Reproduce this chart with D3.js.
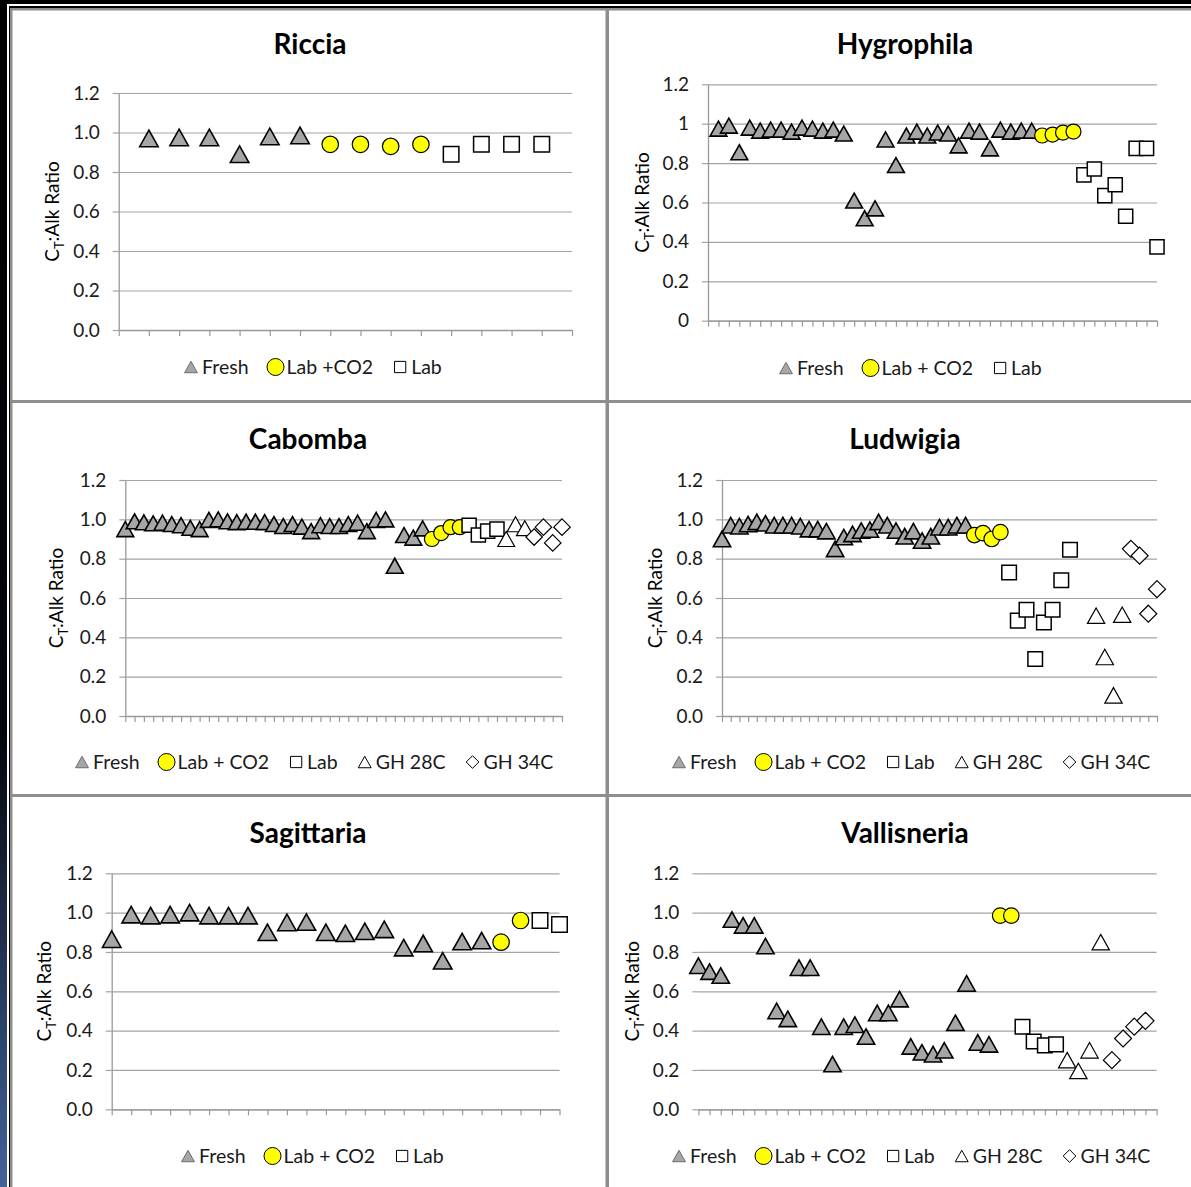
<!DOCTYPE html>
<html>
<head>
<meta charset="utf-8">
<script src="https://cdn.jsdelivr.net/npm/d3@7"></script>
<style>
  body { margin: 0; background: #000; }
  svg { display: block; font-family: Lato, "Open Sans", sans-serif; }
</style>
</head>
<body>
<div id="chart"></div>
<script>
// ---- data ----
const yTicks = [0, 0.2, 0.4, 0.6, 0.8, 1.0, 1.2];

const legendShort = ["Fresh", "Lab +CO2", "Lab"];
const legendThree = ["Fresh", "Lab + CO2", "Lab"];
const legendFive = ["Fresh", "Lab + CO2", "Lab", "GH 28C", "GH 34C"];

const ricciaFresh = [0.97, 0.975, 0.975, 0.89, 0.98, 0.985];
const ricciaLabCO2 = [0.94, 0.94, 0.93, 0.94];
const ricciaLab = [0.89, 0.94, 0.94, 0.94];

const hygroFresh = [0.975, 0.99, 0.855, 0.98, 0.965, 0.97, 0.97, 0.96, 0.98, 0.975,
  0.965, 0.97, 0.95, 0.61, 0.52, 0.57, 0.92, 0.79, 0.94, 0.96,
  0.94, 0.955, 0.95, 0.89, 0.965, 0.96, 0.875, 0.97, 0.96, 0.965, 0.965];
const hygroLabCO2 = [0.94, 0.945, 0.955, 0.96];
const hygroLab = [0.74, 0.77, 0.635, 0.69, 0.53, 0.875, 0.875, 0.375];

const cabombaFresh = [0.95, 0.99, 0.985, 0.98, 0.983, 0.976, 0.97, 0.957, 0.95, 0.997,
  1.0, 0.99, 0.986, 0.988, 0.988, 0.986, 0.976, 0.966, 0.976, 0.963,
  0.94, 0.97, 0.966, 0.966, 0.976, 0.983, 0.94, 0.997, 1.0, 0.764,
  0.92, 0.907, 0.954];
const cabombaLabCO2 = [0.90, 0.93, 0.96, 0.96];
const cabombaLab = [0.97, 0.92, 0.94, 0.95];
const cabombaGH28 = [0.90, 0.975, 0.955];
const cabombaGH34 = [0.91, 0.96, 0.88, 0.96];

const ludwigiaFresh = [0.90, 0.97, 0.965, 0.976, 0.987, 0.98, 0.97, 0.97, 0.97, 0.965,
  0.95, 0.95, 0.94, 0.85, 0.91, 0.926, 0.943, 0.948, 0.987, 0.97,
  0.943, 0.914, 0.94, 0.892, 0.914, 0.96, 0.96, 0.97, 0.97];
const ludwigiaLabCO2 = [0.92, 0.93, 0.90, 0.935];
const ludwigiaLab = [0.73, 0.485, 0.54, 0.29, 0.475, 0.54, 0.69, 0.845, null, null];
const ludwigiaGH28 = [0.51, 0.30, 0.105, 0.515];
const ludwigiaGH34 = [0.85, 0.815, 0.52, 0.645];

const sagFresh = [0.865, 0.99, 0.985, 0.99, 1.0, 0.985, 0.985, 0.985, 0.90, 0.95,
  0.952, 0.90, 0.895, 0.905, 0.915, 0.822, 0.843, 0.755, 0.853, 0.858];
const sagLabCO2 = [0.85, 0.96];
const sagLab = [0.96, 0.94];

const vallFresh = [0.73, 0.70, 0.68, 0.965, 0.935, 0.935, 0.83, 0.50, 0.46, 0.72,
  0.72, 0.42, 0.23, 0.42, 0.43, 0.37, 0.49, 0.49, 0.56, 0.32,
  0.29, 0.28, 0.30, 0.44, 0.64, 0.34, 0.33];
const vallLabCO2 = [0.985, 0.985];
const vallLab = [0.42, 0.345, 0.325, 0.33];
const vallGH28 = [0.25, 0.195, 0.30, 0.85];
const vallGH34 = [0.25, 0.36, 0.42, 0.45];

// ---- panels ----
const panels = [
  { title: "Riccia", cx: 310, left: 118.7, right: 572, top: 93, bottom: 330, dom: [0, 15], start: 1,
    fmt: ".1f", labelX: 59, legendX: 191, legendY: 374, ms: 16.5, legend: legendShort,
    series: [["fresh", ricciaFresh], ["co2", ricciaLabCO2], ["lab", ricciaLab]] },
  { title: "Hygrophila", cx: 905, left: 708, right: 1157, top: 84.3, bottom: 320.7, dom: [0, 43], start: 1,
    fmt: "~g", labelX: 649, legendX: 786, legendY: 375, ms: 15, legend: legendThree,
    series: [["fresh", hygroFresh], ["co2", hygroLabCO2], ["lab", hygroLab]] },
  { title: "Cabomba", cx: 308, left: 125.3, right: 562, top: 480, bottom: 716, dom: [0, 47], start: 0,
    fmt: ".1f", labelX: 63, legendX: 82, legendY: 769, ms: 15, legend: legendFive,
    series: [["fresh", cabombaFresh], ["co2", cabombaLabCO2], ["lab", cabombaLab], ["gh28", cabombaGH28], ["gh34", cabombaGH34]] },
  { title: "Ludwigia", cx: 905, left: 722, right: 1157, top: 480, bottom: 716, dom: [0, 50], start: 0,
    fmt: ".1f", labelX: 662, legendX: 679, legendY: 769, ms: 15.5, legend: legendFive,
    series: [["fresh", ludwigiaFresh], ["co2", ludwigiaLabCO2], ["lab", ludwigiaLab], ["gh28", ludwigiaGH28], ["gh34", ludwigiaGH34]] },
  { title: "Sagittaria", cx: 308, left: 111.7, right: 559.5, top: 873.3, bottom: 1109.3, dom: [0, 23], start: 0,
    fmt: ".1f", labelX: 51, legendX: 188, legendY: 1163, ms: 16.5, legend: legendThree,
    series: [["fresh", sagFresh], ["co2", sagLabCO2], ["lab", sagLab]] },
  { title: "Vallisneria", cx: 905, left: 698.4, right: 1156.6, top: 873.3, bottom: 1109.3, dom: [0, 41], start: 0,
    fmt: ".1f", labelX: 639, legendX: 679, legendY: 1163, ms: 15.5, legend: legendFive, noAxisLine: true,
    series: [["fresh", vallFresh], ["co2", vallLabCO2], ["lab", vallLab], ["gh28", vallGH28], ["gh34", vallGH34]] }
];
const titleY = [54, 54, 449, 449, 843, 843];

const W = 1191, H = 1187;
const svg = d3.select("#chart").append("svg").attr("width", W).attr("height", H);

// ---- slide frame ----
const grad = svg.append("defs").append("linearGradient")
  .attr("id", "edge").attr("x1", 0).attr("y1", 0).attr("x2", 0).attr("y2", 1);
grad.append("stop").attr("offset", "0").attr("stop-color", "#000");
grad.append("stop").attr("offset", "0.62").attr("stop-color", "#03060b");
grad.append("stop").attr("offset", "1").attr("stop-color", "#42639a");

svg.append("rect").attr("width", W).attr("height", H).attr("fill", "#000");
svg.append("rect").attr("width", 7).attr("height", H).attr("fill", "url(#edge)");
svg.append("rect").attr("x", 7).attr("y", 4).attr("width", W).attr("height", 2).attr("fill", "#fff");
svg.append("rect").attr("x", 7).attr("y", 4).attr("width", 2).attr("height", H).attr("fill", "#fff");
svg.append("rect").attr("x", 10).attr("y", 8).attr("width", W).attr("height", H).attr("fill", "#fff");

const frameGray = "#8e8e8e";
svg.append("rect").attr("x", 10).attr("y", 8).attr("width", 2.5).attr("height", H).attr("fill", frameGray);
svg.append("rect").attr("x", 10).attr("y", 8).attr("width", W).attr("height", 2.5).attr("fill", frameGray);
svg.append("rect").attr("x", 605.5).attr("y", 8).attr("width", 3.5).attr("height", H).attr("fill", frameGray);
svg.append("rect").attr("x", 10).attr("y", 400).attr("width", W).attr("height", 3).attr("fill", frameGray);
svg.append("rect").attr("x", 10).attr("y", 794).attr("width", W).attr("height", 3).attr("fill", frameGray);

// ---- markers ----
function markerPath(type, s) {
  const h = s / 2;
  if (type === "fresh" || type === "gh28") {
    const w = s * 0.56, t = s * 0.5;
    return `M0,${-t}L${w},${t}L${-w},${t}Z`;
  }
  if (type === "lab") {
    const q = s * 0.47;
    return `M${-q},${-q}H${q}V${q}H${-q}Z`;
  }
  if (type === "gh34") {
    const q = s * 0.55;
    return `M0,${-q}L${q},0L0,${q}L${-q},0Z`;
  }
  return d3.arc()({ innerRadius: 0, outerRadius: h, startAngle: 0, endAngle: 2 * Math.PI });
}
const markerStyle = {
  fresh: { fill: "#a6a6a6", stroke: "#000", sw: 1.6 },
  co2:   { fill: "#ffff00", stroke: "#000", sw: 1.2 },
  lab:   { fill: "#fff", stroke: "#000", sw: 1.5 },
  gh28:  { fill: "#fff", stroke: "#000", sw: 1.2 },
  gh34:  { fill: "#fff", stroke: "#000", sw: 1.2 }
};
const legendSize = { fresh: 11.5, co2: 17, lab: 12, gh28: 11.5, gh34: 11.5 };
const types = ["fresh", "co2", "lab", "gh28", "gh34"];

panels.forEach((p, pi) => {
  const g = svg.append("g");
  const x = d3.scaleLinear().domain(p.dom).range([p.left, p.right]);
  const y = d3.scaleLinear().domain([0, 1.2]).range([p.bottom, p.top]);

  // gridlines
  g.append("g")
    .attr("transform", `translate(${p.left},0)`)
    .call(d3.axisLeft(y).tickValues(yTicks).tickSize(-(p.right - p.left)).tickFormat(""))
    .call(a => a.select(".domain").remove())
    .call(a => a.selectAll("line").attr("stroke", "#a3a3a3").attr("stroke-width", 1.2));

  // y axis with outside ticks and labels
  const ya = g.append("g")
    .attr("transform", `translate(${p.left},0)`)
    .call(d3.axisLeft(y).tickValues(yTicks).tickSize(6).tickSizeOuter(0).tickPadding(13)
      .tickFormat(d3.format(p.fmt)));
  ya.selectAll("line").attr("stroke", "#a3a3a3").attr("stroke-width", 1.2);
  ya.select(".domain").attr("stroke", "#999").attr("stroke-width", 1.3);
  if (p.noAxisLine) ya.select(".domain").remove();
  ya.selectAll("text").attr("font-size", 19).attr("fill", "#1a1a1a").attr("font-family", "Lato, sans-serif");

  // x axis
  const xa = g.append("g")
    .attr("transform", `translate(0,${p.bottom})`)
    .call(d3.axisBottom(x).tickValues(d3.range(p.dom[0], p.dom[1] + 1)).tickSize(6).tickSizeOuter(0).tickFormat(""));
  xa.selectAll("line").attr("stroke", "#999").attr("stroke-width", 1.2);
  xa.select(".domain").attr("stroke", "#999").attr("stroke-width", 1.3);

  // points
  let idx = p.start;
  p.series.forEach(([type, vals]) => {
    const st = markerStyle[type];
    const pts = vals.map(v => ({ v, i: idx++ })).filter(d => d.v !== null);
    g.append("g").selectAll("path").data(pts).join("path")
      .attr("transform", d => `translate(${x(d.i)},${y(d.v)})`)
      .attr("d", markerPath(type, p.ms))
      .attr("fill", st.fill).attr("stroke", st.stroke).attr("stroke-width", st.sw);
  });

  // title
  g.append("text").attr("x", p.cx).attr("y", titleY[pi]).attr("text-anchor", "middle")
    .attr("font-size", 28).attr("font-weight", "bold").attr("fill", "#000").text(p.title);

  // y-axis title
  const yt = g.append("text")
    .attr("transform", `translate(${p.labelX},${(p.top + p.bottom) / 2}) rotate(-90)`)
    .attr("text-anchor", "middle").attr("font-size", 19).attr("fill", "#000");
  yt.append("tspan").text("C");
  yt.append("tspan").attr("font-size", 13).attr("dy", 5).text("T");
  yt.append("tspan").attr("dy", -5).text(":Alk Ratio");

  // legend
  let lx = p.legendX;
  p.legend.forEach((label, li) => {
    const type = types[li];
    const st = markerStyle[type];
    g.append("path").attr("transform", `translate(${lx},${p.legendY - 7})`)
      .attr("d", markerPath(type, legendSize[type]))
      .attr("fill", st.fill).attr("stroke", type === "fresh" ? "#555" : "#000")
      .attr("stroke-width", type === "fresh" ? 0.8 : 1);
    const t = g.append("text").attr("x", lx + 11).attr("y", p.legendY)
      .attr("font-size", 19.5).attr("fill", "#1a1a1a").text(label);
    lx = lx + 11 + t.node().getComputedTextLength() + 27;
  });
});
</script>
</body>
</html>
